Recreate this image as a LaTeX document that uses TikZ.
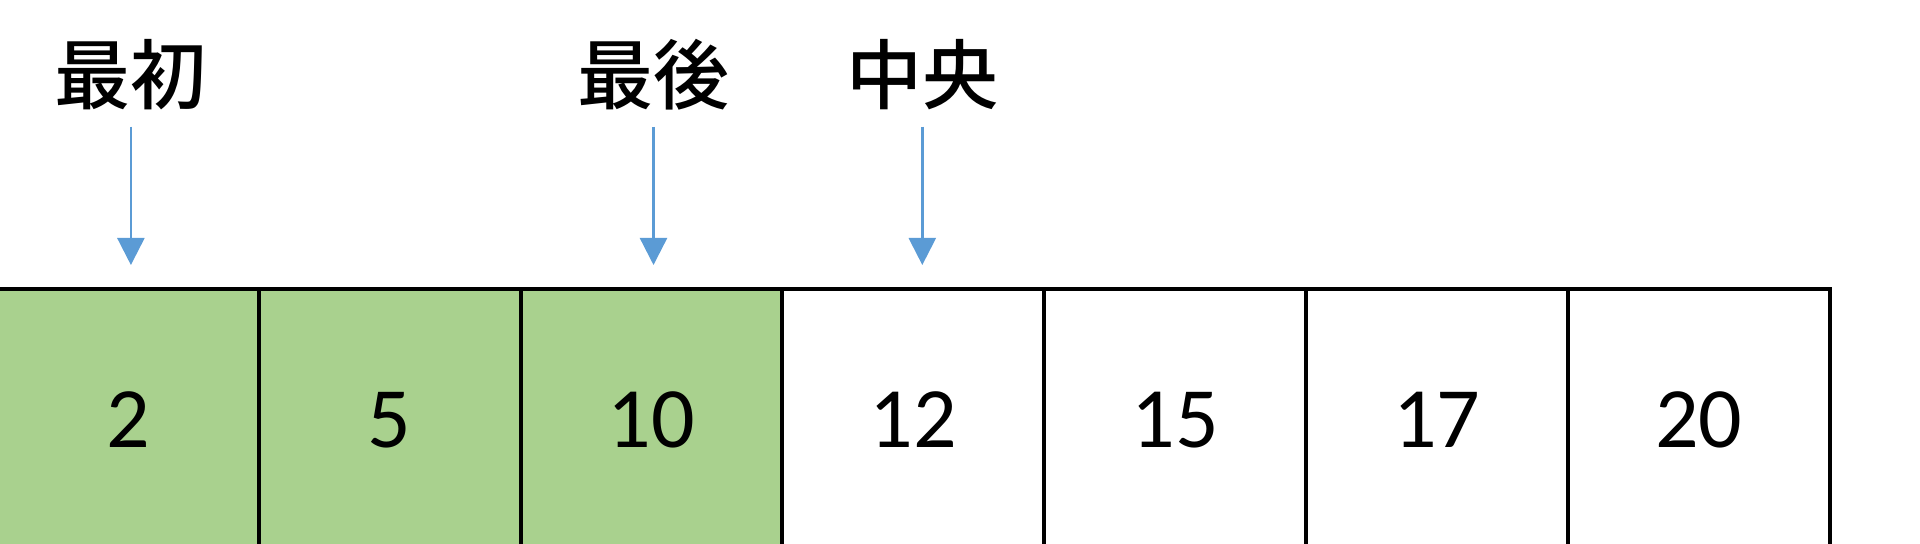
\documentclass[tikz,border=0pt]{standalone}
\usepackage{fontspec}
\setmainfont{Carlito}
\newfontfamily\jafont{Noto Sans CJK JP}[BoldFont={Noto Sans CJK JP Medium}]
\usetikzlibrary{arrows.meta,positioning}
\definecolor{cellgreen}{HTML}{A9D18E}
\definecolor{arrowblue}{HTML}{5B9BD5}

\begin{document}
\begin{tikzpicture}[x=0.5pt,y=-0.5pt,node distance=130.9pt,on grid,
  cell/.style={draw,line width=2pt,minimum width=130.9pt,minimum height=131pt,inner sep=0pt,font=\fontsize{43}{43}\selectfont},
  done/.style={cell,fill=cellgreen},
  tag/.style={inner sep=0pt,font=\jafont\bfseries\fontsize{38}{38}\selectfont},
  pointer/.style={draw=arrowblue,line width=1.2pt,shorten <=8pt,shorten >=11pt,-{Triangle[width=13.5pt,length=13.5pt]}}]
  \useasboundingbox (0,0) rectangle (1920,544);
  % the sorted list
  \node[done] (c1) at (127.9,420) {2};
  \node[done] (c2) [right=of c1] {5};
  \node[done] (c3) [right=of c2] {10};
  \node[cell] (c4) [right=of c3] {12};
  \node[cell] (c5) [right=of c4] {15};
  \node[cell] (c6) [right=of c5] {17};
  \node[cell] (c7) [right=of c6] {20};
  % pointers
  \node[tag] (first) [above=172.5pt of c1,xshift=1.5pt] {最初};
  \node[tag] (last)  [above=172.5pt of c3,xshift=1pt]   {最後};
  \node[tag] (mid)   [above=172.5pt of c4,xshift=4.5pt] {中央};
  \draw[pointer] (first.south) -- (first.south |- c1.north);
  \draw[pointer] (last.south)  -- (last.south |- c3.north);
  \draw[pointer] (mid.south)   -- (mid.south |- c4.north);
\end{tikzpicture}
\end{document}
